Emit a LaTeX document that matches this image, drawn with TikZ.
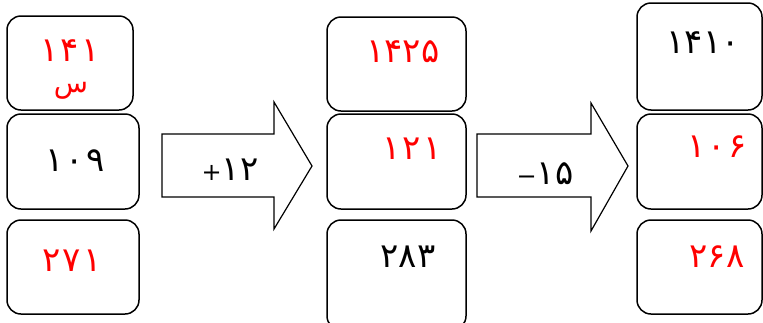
\documentclass[tikz,border=0pt]{standalone}
\usepackage{fontspec}
\newfontfamily\fa[Script=Arabic]{DejaVu Sans}
\newcommand{\dsp}{\kern2pt}
\begin{document}
\begin{tikzpicture}[x=1pt,y=-1pt,
  box/.style={draw=black,line width=1.5pt,rounded corners=14pt,inner sep=0pt},
  num/.style={inner sep=0pt,font=\fa\fontsize{34}{40}\selectfont},
  red/.style={text=red},
  blockarrow/.style={draw=black,line width=1.2pt,fill=white,line join=miter}]
\clip (0,0) rectangle (763,322);
\fill[white] (0,0) rectangle (763,322);
% left column
\node[box,minimum width=126pt,minimum height=94pt] (L1) at (70,63) {};
\node[box,minimum width=132pt,minimum height=95pt] (L2) at (73,161.5) {};
\node[box,minimum width=132pt,minimum height=94pt] (L3) at (73,267) {};
% middle column
\node[box,minimum width=139pt,minimum height=94pt] (M1) at (396.5,64) {};
\node[box,minimum width=139pt,minimum height=95pt] (M2) at (396.5,161.5) {};
\node[box,minimum width=139pt,minimum height=110pt] (M3) at (396.5,275) {};
% right column
\node[box,minimum width=125pt,minimum height=107pt] (R1) at (699.5,56.5) {};
\node[box,minimum width=125pt,minimum height=95pt] (R2) at (699.5,161.5) {};
\node[box,minimum width=125pt,minimum height=94pt] (R3) at (699.5,267) {};
% block arrows
\draw[blockarrow] (162,134) -- (274,134) -- (274,102) -- (312,166) -- (274,229) -- (274,197) -- (162,197) -- cycle;
\draw[blockarrow] (477,134) -- (591,134) -- (591,103) -- (628,166) -- (591,231) -- (591,197) -- (477,197) -- cycle;
\node[num] (A1) at (230,170) {{\fontsize{24}{28}\selectfont +}۱۲};
\node[num] (A2) at (545,174) {{\fontsize{24}{28}\selectfont −}۱۵};
% texts
\node[num,red] (t1) at (70,51) {۱\dsp۴\dsp۱};
\node[num,red,font=\fa\fontsize{28}{32}\selectfont] (t1b) at (71,91) {س};
\node[num] (t2) at (75,161) {۱\dsp۰\dsp۹};
\node[num,red] (t3) at (72,261) {۲\dsp۷\dsp۱};
\node[num,red] (t4) at (403,52) {۱۴۲۵};
\node[num,red] (t5) at (412,149) {۱\dsp۲\dsp۱};
\node[num] (t6) at (408,257) {۲۸۳};
\node[num] (t7) at (703,43) {۱۴۱۰};
\node[num,red] (t8) at (717,147) {۱\dsp۰\dsp۶};
\node[num,red] (t9) at (717,257) {۲۶۸};
\end{tikzpicture}
\end{document}
